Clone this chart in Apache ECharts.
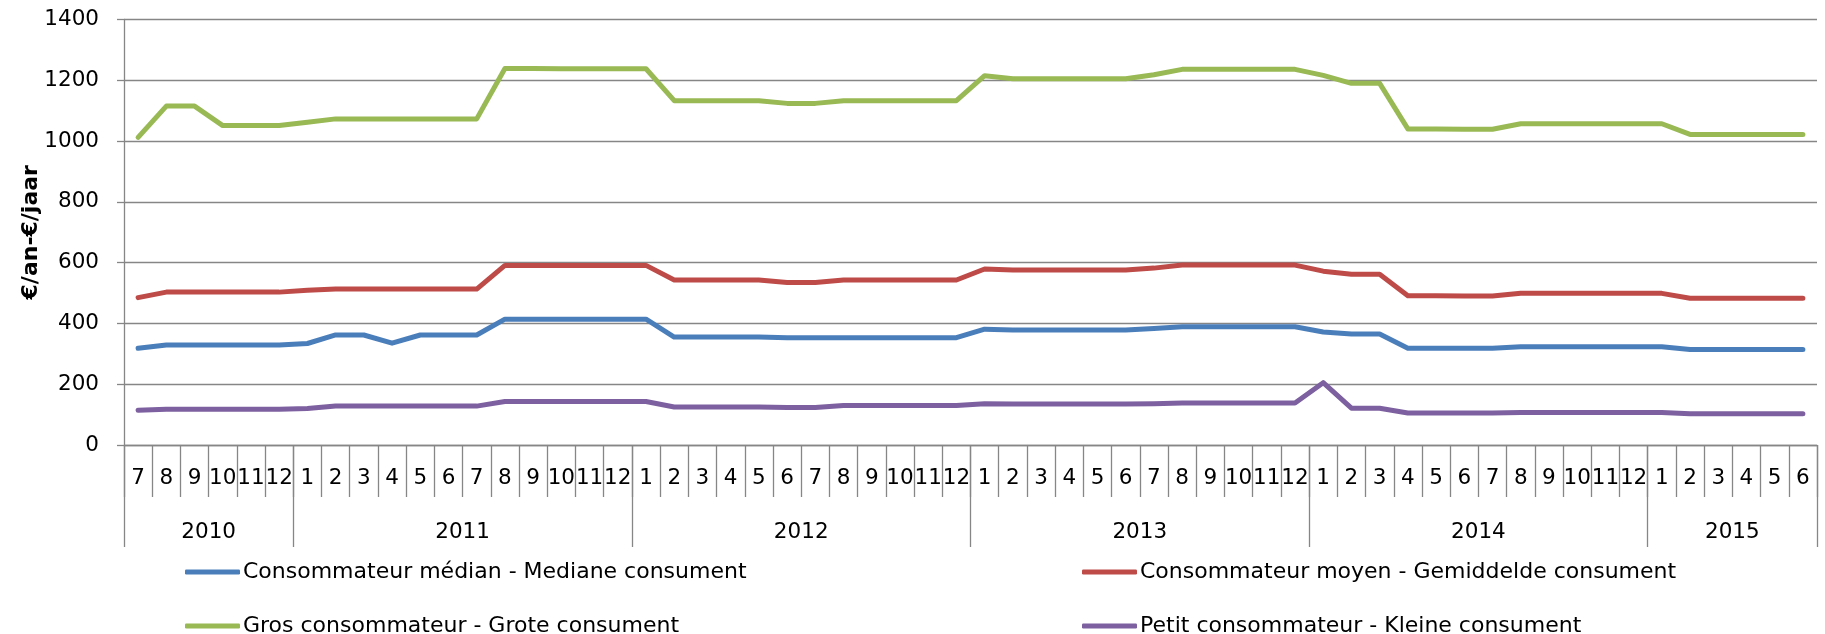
<!DOCTYPE html>
<html><head><meta charset="utf-8">
<script src="https://cdn.jsdelivr.net/npm/echarts@6/dist/echarts.min.js"></script>
<style>html,body{margin:0;padding:0;background:#fff}#c{width:1825px;height:634px}</style>
</head><body><div id="c"></div>
<script>
// ---- data ----
const months = ['7','8','9','10','11','12',
  '1','2','3','4','5','6','7','8','9','10','11','12',
  '1','2','3','4','5','6','7','8','9','10','11','12',
  '1','2','3','4','5','6','7','8','9','10','11','12',
  '1','2','3','4','5','6','7','8','9','10','11','12',
  '1','2','3','4','5','6'];
const years = ['2010','2011','2012','2013','2014','2015'];
const monthsInYear = [6, 12, 12, 12, 12, 6];
const yTicks = [0, 200, 400, 600, 800, 1000, 1200, 1400];

const median = [318,329,329,329,329,329,
  334,362,362,335,362,362,362,414,414,414,414,414,
  414,355,355,355,355,353,353,353,353,353,353,353,
  381,378,378,378,378,378,383,389,389,389,389,389,
  372,365,365,318,318,318,318,323,323,323,323,323,
  323,314,314,314,314,314];
const moyen = [485,503,503,503,503,503,
  509,513,513,513,513,513,513,591,591,591,591,591,
  591,543,543,543,543,535,535,543,543,543,543,543,
  579,576,576,576,576,576,582,592,592,592,592,592,
  572,562,562,491,491,490,490,499,499,499,499,499,
  499,483,483,483,483,483];
const gros = [1012,1115,1115,1051,1051,1051,
  1062,1073,1073,1073,1073,1073,1073,1239,1239,1238,1238,1238,
  1238,1133,1133,1133,1133,1124,1124,1133,1133,1133,1133,1133,
  1215,1205,1205,1205,1205,1205,1218,1236,1236,1236,1236,1236,
  1216,1190,1190,1040,1040,1039,1039,1057,1057,1057,1057,1057,
  1057,1022,1022,1022,1022,1022];
const petit = [114,118,118,118,118,118,
  120,128,128,128,128,128,128,143,143,143,143,143,
  143,125,125,125,125,123,123,130,130,130,130,130,
  136,135,135,135,135,135,136,138,138,138,138,138,
  205,121,121,105,105,105,105,107,107,107,107,107,
  107,103,103,103,103,103];

const names = ['Consommateur médian - Mediane consument',
  'Consommateur moyen - Gemiddelde consument',
  'Gros consommateur - Grote consument',
  'Petit consommateur - Kleine consument'];
const colors = ['#4A7EBB', '#BE4B48', '#98B954', '#7D60A0'];

// year boundaries and centres (in month units)
const bounds = [0];
monthsInYear.forEach(n => bounds.push(bounds[bounds.length - 1] + n));
const centers = monthsInYear.map((n, i) => bounds[i] + n / 2);

const FONT = 'DejaVu Sans';
const gray = '#868686';
const chart = echarts.init(document.getElementById('c'));

function lineSeries(name, data, color) {
  return {
    name, type: 'line', data, xAxisIndex: 0, yAxisIndex: 0,
    symbol: 'none', smooth: false,
    lineStyle: { color, width: 5, cap: 'round', join: 'round' },
    itemStyle: { color }
  };
}
function legendItem(name, left, top) {
  return {
    data: [name], left, top, orient: 'horizontal',
    icon: 'roundRect', itemWidth: 55, itemHeight: 5, itemGap: 0,
    selectedMode: false,
    textStyle: { fontFamily: FONT, fontSize: 22, color: '#000', lineHeight: 24, padding: [0, 0, 0, -2] }
  };
}

chart.setOption({
  animation: false,
  backgroundColor: '#ffffff',
  textStyle: { fontFamily: FONT },
  grid: { left: 124, right: 8, top: 19.5, bottom: 189, containLabel: false },
  legend: [
    legendItem(names[0], 180, 555),
    legendItem(names[1], 1077, 555),
    legendItem(names[2], 180, 609),
    legendItem(names[3], 1077, 609)
  ],
  xAxis: [
    { type: 'category', data: months, boundaryGap: true, position: 'bottom',
      axisLine: { show: true, lineStyle: { color: gray, width: 1.3 } },
      axisTick: { show: true, interval: 0, length: 52, lineStyle: { color: gray, width: 1.3 } },
      axisLabel: { interval: 0, margin: 22, fontFamily: FONT, fontSize: 21.5, color: '#000' },
      splitLine: { show: false } },
    { type: 'value', min: 0, max: bounds[bounds.length - 1], position: 'bottom',
      axisLine: { show: false },
      splitLine: { show: false },
      axisTick: { show: true, customValues: bounds, length: 102, lineStyle: { color: gray, width: 1.3 } },
      axisLabel: { show: true, customValues: centers, margin: 76, fontFamily: FONT, fontSize: 21.5, color: '#000',
        formatter: v => { const k = centers.indexOf(v); return k >= 0 ? years[k] : ''; } } }
  ],
  yAxis: {
    type: 'value', min: yTicks[0], max: yTicks[yTicks.length - 1], interval: 200,
    name: '€/an-€/jaar', nameLocation: 'middle', nameGap: 82, nameRotate: 90, nameMoveOverlap: false,
    nameTextStyle: { fontFamily: FONT, fontSize: 22, fontWeight: 'bold', color: '#000' },
    axisLine: { show: true, lineStyle: { color: gray, width: 1.3 } },
    axisTick: { show: true, length: 7, lineStyle: { color: gray, width: 1.3 } },
    axisLabel: { margin: 25, fontFamily: FONT, fontSize: 21.5, color: '#000', formatter: v => String(v) },
    splitLine: { show: true, lineStyle: { color: gray, width: 1.3 } }
  },
  series: [
    lineSeries(names[0], median, colors[0]),
    lineSeries(names[1], moyen, colors[1]),
    lineSeries(names[2], gros, colors[2]),
    lineSeries(names[3], petit, colors[3])
  ]
});
</script></body></html>
